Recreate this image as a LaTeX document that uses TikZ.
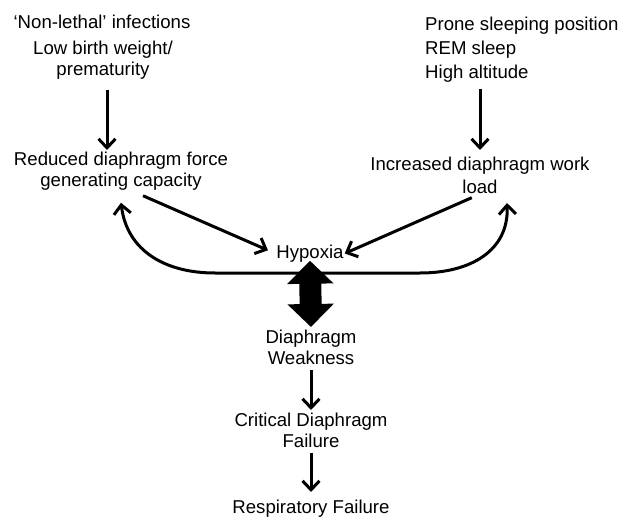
\documentclass[tikz,border=0pt]{standalone}
\usepackage{fontspec}
\setmainfont{Liberation Sans}
\usetikzlibrary{arrows.meta}

\tikzset{
    lbl/.style={inner sep=0pt, anchor=north, align=center, font=\fontsize{18.6}{21}\selectfont},
    arr/.style={line width=3pt, -{Straight Barb[length=9pt,width=17pt]}},
    bigarr/.style={line width=22pt, {Triangle[length=23pt,width=45pt]}-{Triangle[length=23pt,width=45pt]}}
}

\begin{document}
\begin{tikzpicture}[x=1pt, y=-1pt]
    \useasboundingbox (0,0) rectangle (628,518);

    % Place the causes at the top
    \node[lbl] (inf) at (102,15) {‘Non-lethal’ infections};
    \node[lbl] (lbw) at (103,41) {Low birth weight/\\prematurity};
    \node[lbl, anchor=north west, align=left, font=\fontsize{18.6}{24}\selectfont] (pro) at (425,17) {Prone sleeping position\\REM sleep\\High altitude};

    % Place the middle and lower labels
    \node[lbl] (red) at (121,152) {Reduced diaphragm force\\generating capacity};
    \node[lbl, font=\fontsize{18.6}{23}\selectfont] (inc) at (480,157) {Increased diaphragm work\\load};
    \node[lbl] (hyp) at (310,245) {Hypoxia};
    \node[lbl] (dw) at (311,330) {Diaphragm\\Weakness};
    \node[lbl] (cdf) at (311,413) {Critical Diaphragm\\Failure};
    \node[lbl] (rf) at (311,500) {Respiratory Failure};

    % Define the ends of the flat part of the curve
    \coordinate (cl) at (215,273);
    \coordinate (cr) at (420,273);

    % Draw the arrows
    \draw[arr] ([xshift=4pt,yshift=-10pt]lbw.south) -- ([xshift=4pt,yshift=2pt]lbw.south |- red.north);
    \draw[arr] ([yshift=-6pt]inc.north |- pro.south) -- ([yshift=7pt]inc.north);
    \draw[arr, shorten >=9pt] ([xshift=22pt,yshift=-5pt]red.south) -- (hyp.west);
    \draw[arr, shorten >=1pt, shorten <=9pt] (inc.south) -- (hyp.east);
    \draw[arr, {Straight Barb[length=9pt,width=17pt]}-{Straight Barb[length=9pt,width=17pt]}]
        ([yshift=-12pt]red.south) .. controls +(6,48) and +(-50,0) .. (cl) -- (cr)
        .. controls +(50,0) and +(2,48) .. ([xshift=27pt,yshift=-9pt]inc.south);
    \draw[bigarr, shorten <=-2pt, shorten >=3pt] (hyp.south) -- (dw.north);
    \draw[arr, shorten <=5pt, shorten >=3pt] (dw.south) -- (cdf.north);
    \draw[arr, shorten <=5pt, shorten >=8pt] (cdf.south) -- (rf.north);
\end{tikzpicture}
\end{document}
